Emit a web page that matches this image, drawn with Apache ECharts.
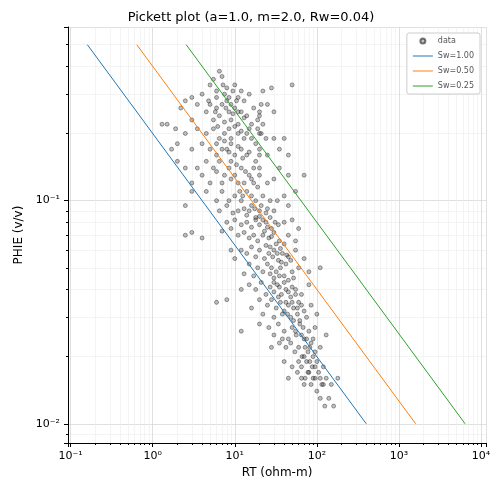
<!DOCTYPE html>
<html>
<head>
<meta charset="utf-8">
<script src="https://cdn.jsdelivr.net/npm/echarts@6/dist/echarts.min.js"></script>
<style>html,body{margin:0;padding:0;background:#fff}#c{width:502px;height:495px}</style>
</head>
<body>
<div id="c"></div>
<script>
// scatter points [RT, PHIE]
const scatterPoints = [
  [6.5,0.38],[7,0.36],[5,0.33],[8,0.32],[9.5,0.31],[4,0.30],[7.5,0.30],[10,0.33],[12,0.31],[3,0.29],[6,0.29],[11,0.29],[15,0.30],[22,0.31],[28,0.32],[50,0.33],
  [2.5,0.28],[3.5,0.27],[5,0.27],[6,0.26],[7,0.27],[8.5,0.25],[10,0.26],[12,0.25],[14,0.24],[17,0.26],[20,0.24],[25,0.27],[30,0.25],[4.5,0.25],[2.2,0.26],[6.5,0.24],[9,0.23],[5.5,0.23],[11,0.22],[16,0.22],[19,0.23],[22,0.22],[3,0.23],[13,0.28],[8,0.28],
  [1.3,0.22],[1.5,0.22],[1.9,0.21],[2.5,0.2],[3.5,0.21],[4.5,0.2],[5.5,0.21],[6.5,0.19],[7.5,0.2],[9,0.19],[11,0.2],[13,0.19],[15,0.21],[18,0.18],[21,0.2],[24,0.19],[30,0.19],[40,0.19],[2,0.18],[3,0.17],[4,0.18],[5,0.17],[6,0.16],[8,0.17],[10,0.16],[12,0.17],[14,0.16],[20,0.17],[25,0.16],[35,0.17],[45,0.16],[1.7,0.17],[9,0.18],[7,0.17],[18,0.15],
  [2,0.15],[3.5,0.14],[4.5,0.15],[5.5,0.14],[6.5,0.15],[7.5,0.13],[8.5,0.14],[10,0.13],[12,0.14],[15,0.13],[20,0.14],[25,0.12],[35,0.14],[45,0.13],[70,0.13],[5,0.12],[7,0.12],[9,0.125],[11,0.12],[13,0.12],[17,0.12],[30,0.125],[4,0.13],[3,0.12],[6,0.135],[2.5,0.14],
  [3,0.11],[4.5,0.11],[6,0.1],[7,0.11],[8.5,0.1],[10,0.105],[12,0.1],[14,0.11],[16,0.095],[18,0.1],[22,0.105],[27,0.1],[33,0.1],[40,0.105],[8,0.095],[11,0.09],[13,0.092],[15,0.09],[20,0.09],[25,0.092],[30,0.09],[6.5,0.09],[9.5,0.088],[45,0.095],[55,0.11],[2.5,0.095],
  [2.5,0.07],[3,0.072],[4,0.068],[8,0.08],[10,0.082],[12,0.078],[14,0.08],[16,0.076],[18,0.082],[20,0.078],[24,0.08],[28,0.075],[34,0.078],[40,0.08],[50,0.082],[60,0.075],[11,0.07],[13,0.072],[15,0.068],[17,0.07],[19,0.066],[22,0.07],[26,0.068],[30,0.072],[35,0.066],[45,0.07],[9,0.075],[7,0.073],[55,0.066],[20,0.085],
  [12,0.06],[14,0.058],[16,0.062],[18,0.056],[20,0.06],[23,0.055],[26,0.058],[30,0.06],[34,0.054],[38,0.058],[45,0.056],[55,0.06],[70,0.055],[10,0.055],[15,0.052],[19,0.05],[22,0.048],[25,0.052],[28,0.05],[32,0.048],[36,0.05],[42,0.052],[50,0.048],[60,0.05],[80,0.048],[13,0.047],[17,0.046],[30,0.045],[40,0.046],[110,0.05],[9,0.06],
  [6,0.035],[8,0.036],[12,0.04],[15,0.042],[18,0.04],[21,0.043],[24,0.038],[27,0.041],[30,0.039],[33,0.042],[37,0.038],[42,0.04],[48,0.037],[55,0.04],[65,0.038],[80,0.042],[20,0.036],[25,0.034],[28,0.036],[32,0.033],[36,0.035],[40,0.032],[45,0.034],[52,0.033],[60,0.035],[70,0.032],[85,0.034],[16,0.033],[22,0.031],[30,0.03],[38,0.031],[48,0.03],[58,0.031],[75,0.03],[100,0.031],
  [12,0.026],[20,0.028],[26,0.027],[30,0.025],[34,0.028],[40,0.026],[45,0.024],[50,0.027],[56,0.025],[62,0.028],[70,0.024],[80,0.026],[95,0.027],[35,0.023],[42,0.022],[48,0.023],[54,0.021],[60,0.022],[66,0.02],[72,0.022],[78,0.021],[85,0.023],[95,0.021],[110,0.022],[28,0.022],[38,0.024],[60,0.019],[130,0.025],
  [40,0.019],[50,0.018],[58,0.017],[65,0.018],[72,0.016],[80,0.017],[88,0.018],[95,0.016],[105,0.017],[120,0.018],[70,0.015],[85,0.015],[100,0.014],[115,0.015],[130,0.016],[150,0.015],[180,0.016],[110,0.013],[125,0.012],[140,0.013],[160,0.012],[45,0.016],[90,0.02],
  // denser core
  [5.5,0.35],[6,0.31],[7.2,0.33],[8.5,0.29],[9,0.27],[10.5,0.28],[4.8,0.28],[5.8,0.25],[7.8,0.26],[9.5,0.245],[11,0.25],[13,0.235],[6.2,0.215],[7.5,0.225],[8.5,0.21],[10,0.215],[12,0.205],[14,0.2],[16,0.19],[19,0.21],[20,0.25],[20,0.2],[20,0.16],[20,0.13],[21,0.27],
  [6,0.18],[7.5,0.185],[8.5,0.165],[11,0.175],[12.5,0.155],[15,0.165],[17,0.14],[9,0.15],[10.5,0.145],[13.5,0.135],[16,0.125],[19,0.115],[11.5,0.11],[12.5,0.105],[16,0.105],[17.5,0.092],[21,0.095],[24,0.088],[14,0.086],[18,0.084],
  [22,0.082],[25,0.076],[27,0.084],[31,0.08],[23,0.073],[28,0.069],[32,0.064],[24,0.063],[27,0.062],[36,0.061],[40,0.064],[29,0.056],[33,0.058],[37,0.053],[43,0.057],[48,0.054],[27,0.047],[35,0.046],[45,0.044],[52,0.045],
  [30,0.043],[35,0.041],[40,0.043],[45,0.039],[50,0.041],[55,0.038],[34,0.037],[42,0.035],[50,0.035],[58,0.033],[65,0.034],[44,0.031],[52,0.029],[62,0.029],[68,0.027],[55,0.026],[65,0.025],[75,0.024],[82,0.022],[90,0.024],
  [70,0.02],[75,0.019],[82,0.019],[95,0.018],[100,0.019],[110,0.016],[120,0.015],[90,0.016],[78,0.017],[65,0.016]
];

// Sw lines: end points [RT, PHIE]
const lineNames = ['Sw=1.00', 'Sw=0.50', 'Sw=0.25'];
const lineColors = ['#1f77b4', '#ff7f0e', '#2ca02c'];
const lineEnds = [
  [[0.16, 0.5], [400, 0.01]],
  [[0.64, 0.5], [1600, 0.01]],
  [[2.56, 0.5], [6400, 0.01]]
];

const sup = {'-': '⁻', '0': '⁰', '1': '¹', '2': '²', '3': '³', '4': '⁴'};
function powLabel(v) {
  const e = String(Math.round(Math.log10(v)));
  return '10' + e.split('').map(c => sup[c]).join('');
}

const chart = echarts.init(document.getElementById('c'));
const axisCommon = {
  type: 'log',
  logBase: 10,
  nameLocation: 'middle',
  nameTextStyle: { fontSize: 12, color: '#000', fontFamily: 'DejaVu Sans' },
  axisLine: { onZero: false, lineStyle: { color: '#000' } },
  axisTick: { show: true, length: 4, lineStyle: { color: '#000' } },
  axisLabel: { fontSize: 11, color: '#000', fontFamily: 'DejaVu Sans', formatter: powLabel,
    showMinLabel: false, showMaxLabel: false },
  splitLine: { show: true, lineStyle: { color: '#d8d8d8', width: 0.8 } },
  minorTick: { show: true, splitNumber: 9, length: 2 },
  minorSplitLine: { show: true, lineStyle: { color: '#ececec', width: 0.6 } }
};

const lineIcon = 'path://M0,0 L20,0 L20,1 L0,1 Z';

chart.setOption({
  animation: false,
  title: {
    text: 'Pickett plot (a=1.0, m=2.0, Rw=0.04)',
    left: 'center', top: 6,
    textStyle: { fontSize: 13, fontWeight: 'normal', color: '#000', fontFamily: 'DejaVu Sans' }
  },
  grid: { left: 68, right: 16, top: 27, bottom: 52 },
  legend: {
    orient: 'vertical', right: 22, top: 33,
    backgroundColor: '#fff', borderColor: '#ccc', borderWidth: 1, borderRadius: 2,
    padding: [4, 6], itemGap: 7, itemWidth: 20, itemHeight: 5,
    textStyle: { fontSize: 8, fontFamily: 'DejaVu Sans' },
    data: [{ name: 'data', icon: 'circle' }].concat(lineNames.map(n => ({ name: n, icon: lineIcon })))
  },
  xAxis: Object.assign({}, axisCommon, { min: 0.093, max: 11500, name: 'RT (ohm-m)', nameGap: 24 }),
  yAxis: Object.assign({}, axisCommon, { min: 0.0082, max: 0.6, name: 'PHIE (v/v)', nameGap: 40 }),
  series: [{
    name: 'data',
    type: 'scatter',
    symbolSize: 4,
    itemStyle: { color: 'rgba(60,60,60,0.4)', borderColor: 'rgba(0,0,0,0.65)', borderWidth: 0.7 },
    data: scatterPoints
  }].concat(lineNames.map((n, i) => ({
    name: n,
    type: 'line',
    symbol: 'none',
    lineStyle: { color: lineColors[i], width: 1 },
    itemStyle: { color: lineColors[i] },
    data: lineEnds[i]
  })))
});
</script>
</body>
</html>
